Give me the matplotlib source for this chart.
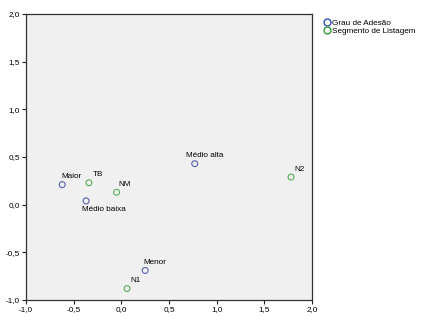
import matplotlib
matplotlib.use("Agg")
import matplotlib.pyplot as plt
from matplotlib.lines import Line2D

plt.rcParams['font.family'] = ['Liberation Sans', 'DejaVu Sans']

# category points (Grau de Adesão)
grau_labels = ["Maior", "Médio baixa", "Médio alta", "Menor"]
grau_x = [-0.62, -0.37, 0.77, 0.25]
grau_y = [0.21, 0.04, 0.43, -0.69]

# category points (Segmento de Listagem)
seg_labels = ["TB", "NM", "N2", "N1"]
seg_x = [-0.34, -0.05, 1.78, 0.06]
seg_y = [0.23, 0.13, 0.29, -0.88]

ticks = [-1.0, -0.5, 0.0, 0.5, 1.0, 1.5, 2.0]
tick_labels = ["-1,0", "-0,5", "0,0", "0,5", "1,0", "1,5", "2,0"]

blue = "#5560b0"
green = "#55b055"

# label offsets in pixels (dx, dy)
grau_off = [(-1, 8), (-4, -9), (-9, 8), (-2, 8)]
seg_off = [(4, 8), (2, 8), (3, 8), (3, 8)]

fig = plt.figure(figsize=(4.25, 3.3), dpi=100)
ax = fig.add_axes([26 / 425, 30 / 330, 286 / 425, 286 / 330])
ax.set_facecolor("#f0f0f0")

ax.scatter(grau_x, grau_y, s=18, facecolors="none", edgecolors=blue, linewidths=0.8, zorder=3)
ax.scatter(seg_x, seg_y, s=18, facecolors="none", edgecolors=green, linewidths=0.8, zorder=3)

for lab, x, y, off in zip(grau_labels, grau_x, grau_y, grau_off):
    ax.annotate(lab, (x, y), xytext=off, textcoords="offset pixels",
                ha="left", va="center", fontsize=5.9)
for lab, x, y, off in zip(seg_labels, seg_x, seg_y, seg_off):
    ax.annotate(lab, (x, y), xytext=off, textcoords="offset pixels",
                ha="left", va="center", fontsize=5.9)

ax.set_xlim(-1, 2)
ax.set_ylim(-1, 2)
ax.set_xticks(ticks)
ax.set_xticklabels(tick_labels)
ax.set_yticks(ticks)
ax.set_yticklabels(tick_labels)
ax.tick_params(labelsize=5.9, length=3, width=0.8, direction="out", pad=1.5, color="#222222")
for sp in ax.spines.values():
    sp.set_linewidth(0.9)
    sp.set_color("#333333")

handles = [
    Line2D([], [], marker="o", linestyle="none", markersize=5, markerfacecolor="none",
           markeredgecolor="#3050c0", markeredgewidth=1.0, label="Grau de Adesão"),
    Line2D([], [], marker="o", linestyle="none", markersize=5, markerfacecolor="none",
           markeredgecolor="#30a030", markeredgewidth=1.0, label="Segmento de Listagem"),
]
fig.legend(handles=handles, loc="upper left", bbox_to_anchor=(323 / 425, 1 - 19 / 330),
           frameon=False, fontsize=5.9, handletextpad=0.1, handlelength=1.0,
           borderpad=0, borderaxespad=0, labelspacing=0.1)

fig.savefig("out.png", dpi=100)
